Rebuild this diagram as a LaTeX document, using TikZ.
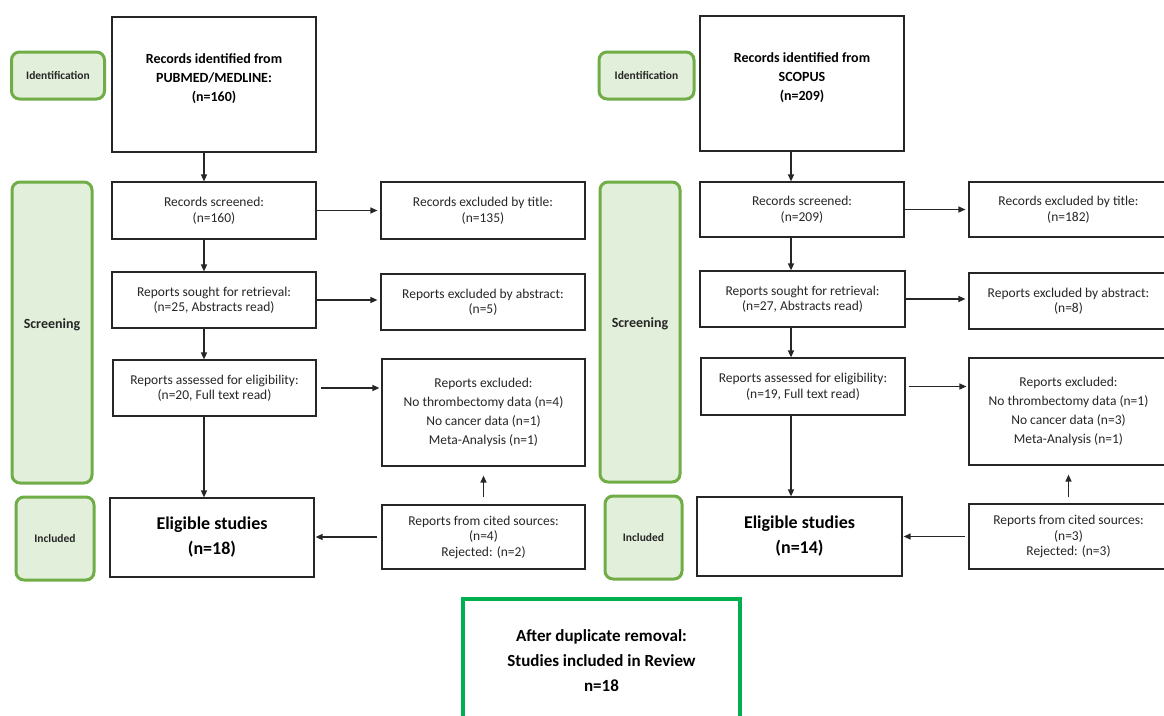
\documentclass[tikz,border=0pt]{standalone}
\usepackage{fontspec}
\setmainfont{Carlito}
\usetikzlibrary{arrows.meta}
\definecolor{sidefill}{HTML}{E2EFDA}
\definecolor{sideedge}{HTML}{70AD47}
\definecolor{finaledge}{HTML}{00B050}
\definecolor{ink}{HTML}{262626}
\tikzset{
  box/.style={draw=ink, line width=1.2pt, fill=white, inner sep=0pt, align=center,
    font=\fontsize{13.5}{15.5}\selectfont, text=ink},
  bigbox/.style={box, font=\bfseries\fontsize{18}{25}\selectfont, text=black},
  headtext/.style={inner sep=0pt, align=center, font=\bfseries\fontsize{14}{19}\selectfont, text=black},
  side/.style={draw=sideedge, fill=sidefill, line width=3pt, rounded corners=8pt, inner sep=0pt,
    align=center, font=\bfseries\fontsize{11.5}{14}\selectfont, text=ink},
  finalbox/.style={draw=finaledge, line width=4pt, fill=white, inner sep=0pt, align=center,
    font=\bfseries\fontsize{17}{25}\selectfont, text=black},
  arr/.style={-{Triangle[length=7pt,width=6pt]}, line width=1.3pt, draw=ink},
}
\begin{document}
\begin{tikzpicture}[x=1pt,y=-1pt]
\useasboundingbox (0,0) rectangle (1164,715);
\clip (0,0) rectangle (1164,715);
\fill[white] (0,0) rectangle (1164,715);

% axes for vertical arrows
\coordinate (axL) at (204,0);
\coordinate (axR) at (791,0);

% ---------------- left column ----------------
\node[side, minimum width=93pt, minimum height=47pt] (idenL) at (58,75.5) {Identification};
\node[side, minimum width=80pt, minimum height=301pt, font=\bfseries\fontsize{14}{17}\selectfont] (scrsL) at (52,332.5) {\raisebox{8pt}[\height][\depth]{Screening}};
\node[side, minimum width=78pt, minimum height=83pt] (incL) at (55,538.5) {Included};

\node[box, minimum width=204pt, minimum height=135pt] (idL) at (214,84.5) {};
\node[headtext] (idLt) at (214,79) {Records identified from\\PUBMED/MEDLINE:\\(n=160)};
\node[box, minimum width=204pt, minimum height=57pt] (scrL) at (214,210.5) {Records screened:\\(n=160)};
\node[box, minimum width=204pt, minimum height=57pt] (titL) at (483,210.5) {Records excluded by title:\\(n=135)};
\node[box, minimum width=204pt, minimum height=56pt] (souL) at (214,300) {Reports sought for retrieval:\\(n=25, Abstracts read)};
\node[box, minimum width=204pt, minimum height=56pt] (absL) at (483,302) {Reports excluded by abstract:\\(n=5)};
\node[box, minimum width=203pt, minimum height=56pt] (assL) at (214.5,388) {Reports assessed for eligibility:\\(n=20, Full text read)};
\node[box, minimum width=203pt, minimum height=107pt, font=\fontsize{13.5}{19}\selectfont] (excL) at (483.5,412.5) {Reports excluded:\\No thrombectomy data (n=4)\\No cancer data (n=1)\\Meta-Analysis (n=1)};
\node[bigbox, minimum width=204pt, minimum height=79pt] (eliL) at (212,537.5) {Eligible studies\\(n=18)};
\node[box, minimum width=203pt, minimum height=64pt] (citL) at (483.5,537) {Reports from cited sources:\\(n=4)\\Rejected: (n=2)};

\draw[arr] (idL.south -| axL) -- (scrL.north -| axL);
\draw[arr] (scrL.south -| axL) -- (souL.north -| axL);
\draw[arr] (souL.south -| axL) -- (assL.north -| axL);
\draw[arr] (assL.south -| axL) -- (eliL.north -| axL);
\draw[arr, shorten >=3pt] (scrL.east) -- (scrL.east -| titL.west);
\draw[arr, shorten >=3pt] (souL.east) -- (souL.east -| absL.west);
\draw[arr, shorten <=4pt, shorten >=2pt] (assL.east) -- (assL.east -| excL.west);
\draw[arr, shorten <=4pt, shorten >=1pt] (citL.west) -- (citL.west -| eliL.east);
\draw[arr, shorten <=7pt, shorten >=9pt] (citL.north) -- (excL.south);

% ---------------- right column ----------------
\node[side, minimum width=95pt, minimum height=47pt] (idenR) at (646.5,75.5) {Identification};
\node[side, minimum width=80pt, minimum height=300pt, font=\bfseries\fontsize{14}{17}\selectfont] (scrsR) at (640,332) {\raisebox{8pt}[\height][\depth]{Screening}};
\node[side, minimum width=77pt, minimum height=83pt] (incR) at (643.5,537.5) {Included};

\node[box, minimum width=204pt, minimum height=135pt] (idR) at (802,83.5) {};
\node[headtext] (idRt) at (802,77.5) {Records identified from\\SCOPUS\\(n=209)};
\node[box, minimum width=204pt, minimum height=55pt] (scrR) at (802,209.5) {Records screened:\\(n=209)};
\node[box, minimum width=199pt, minimum height=55pt] (titR) at (1068.5,209.5) {Records excluded by title:\\(n=182)};
\node[box, minimum width=205pt, minimum height=56pt] (souR) at (802.5,299) {Reports sought for retrieval:\\(n=27, Abstracts read)};
\node[box, minimum width=199pt, minimum height=56pt] (absR) at (1068.5,301) {Reports excluded by abstract:\\(n=8)};
\node[box, minimum width=204pt, minimum height=57pt] (assR) at (803,386.5) {Reports assessed for eligibility:\\(n=19, Full text read)};
\node[box, minimum width=199pt, minimum height=107pt, font=\fontsize{13.5}{19}\selectfont] (excR) at (1068.5,411.5) {Reports excluded:\\No thrombectomy data (n=1)\\No cancer data (n=3)\\Meta-Analysis (n=1)};
\node[bigbox, minimum width=205pt, minimum height=79pt] (eliR) at (799.5,536.5) {Eligible studies\\(n=14)};
\node[box, minimum width=199pt, minimum height=65pt] (citR) at (1068.5,536.5) {Reports from cited sources:\\(n=3)\\Rejected: (n=3)};

\draw[arr] (idR.south -| axR) -- (scrR.north -| axR);
\draw[arr] (scrR.south -| axR) -- (souR.north -| axR);
\draw[arr] (souR.south -| axR) -- (assR.north -| axR);
\draw[arr] (assR.south -| axR) -- (eliR.north -| axR);
\draw[arr, shorten >=3pt] (scrR.east) -- (scrR.east -| titR.west);
\draw[arr, shorten >=3pt] (souR.east) -- (souR.east -| absR.west);
\draw[arr, shorten <=3pt, shorten >=2pt] (assR.east) -- (assR.east -| excR.west);
\draw[arr, shorten <=3pt, shorten >=1pt] (citR.west) -- (citR.west -| eliR.east);
\draw[arr, shorten <=6pt, shorten >=9pt] (citR.north) -- (excR.south);

% ---------------- final box ----------------
\node[finalbox, minimum width=277pt, minimum height=130pt] (final) at (601.5,664) {\raisebox{6pt}[\height][\depth]{After duplicate removal:}\\[-6pt]Studies included in Review\\n=18};
\end{tikzpicture}
\end{document}
